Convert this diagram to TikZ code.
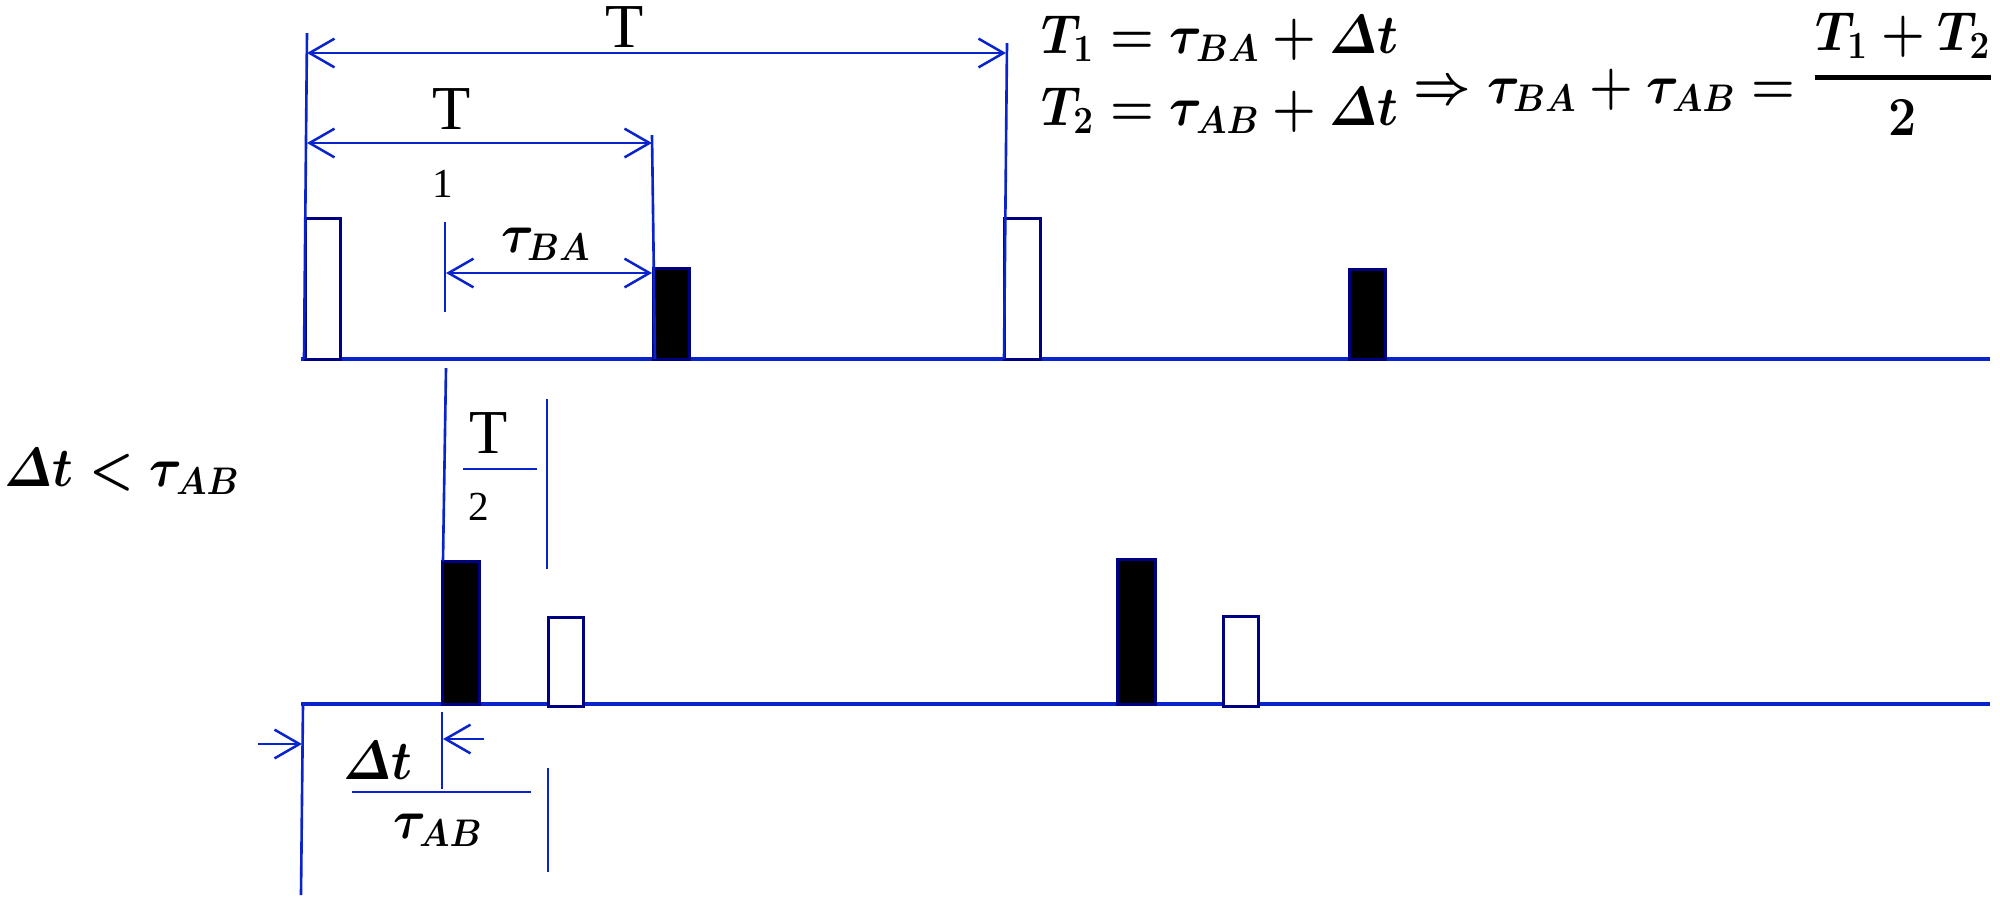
\RequirePackage{fix-cm}
\documentclass[tikz,border=0pt]{standalone}
\usepackage{amsmath}
\usepackage{graphicx}
\usepackage{fontspec}
\newfontfamily\timesfont{Liberation Serif}
\usetikzlibrary{arrows.meta}
\definecolor{linec}{RGB}{10,36,205}
\definecolor{boxc}{RGB}{0,0,130}
\newcommand\eqsq[1]{\scalebox{0.91}[1]{#1}}
\tikzset{
  baseln/.style={draw=linec, line width=1.3pt},
  dimln/.style={draw=linec, line width=1.05pt},
  barb/.tip={Straight Barb[length=10pt,width=11.5pt,line width=1pt]},
  dimarr/.style={dimln, barb-barb},
  onearr/.style={dimln, -barb},
  openbox/.style={draw=boxc, line width=1.2pt, fill=white},
  blackbox/.style={draw=boxc, line width=1.2pt, fill=black},
  timesbig/.style={inner sep=0pt, font=\timesfont\fontsize{25}{30}\selectfont},
  timessmall/.style={inner sep=0pt, font=\timesfont\fontsize{16.5}{20}\selectfont},
  mathtxt/.style={inner sep=0pt, font=\fontsize{22}{26}\selectfont\boldmath},
}
\begin{document}
\begin{tikzpicture}[x=0.4pt,y=-0.4pt]
\useasboundingbox (0,0) rectangle (2000,909);
% ---------- coordinates
\coordinate (tb0) at (301,359); \coordinate (tb1) at (1990,359);
\coordinate (bb0) at (301,704); \coordinate (bb1) at (1990,704);
% vertical guide lines
\coordinate (vA1) at (307,33);   \coordinate (vA2) at (304,359);
\coordinate (vB1) at (1007,43);  \coordinate (vB2) at (1004,359);
\coordinate (vC1) at (652,135);  \coordinate (vC2) at (655,359);
\coordinate (vD1) at (445,222);  \coordinate (vD2) at (445,312);
\coordinate (vE1) at (446,368);  \coordinate (vE2) at (443,561);
\coordinate (vF1) at (547,399);  \coordinate (vF2) at (547,569);
\coordinate (vG1) at (303,704);  \coordinate (vG2) at (301,895);
\coordinate (vH1) at (442,712);  \coordinate (vH2) at (442,789);
\coordinate (vI1) at (548,768);  \coordinate (vI2) at (548,872);
% arrows
\coordinate (aT1) at (307,53);   \coordinate (aT2) at (1006,53);
\coordinate (aS1) at (307,143);  \coordinate (aS2) at (652,143);
\coordinate (aU1) at (446,273);  \coordinate (aU2) at (652,273);
\coordinate (aL1) at (258,744);  \coordinate (aL2) at (302,744);
\coordinate (aR1) at (484,739);  \coordinate (aR2) at (443,739);
% short horizontal lines
\coordinate (hA1) at (463,469);  \coordinate (hA2) at (537,469);
\coordinate (hB1) at (352,792);  \coordinate (hB2) at (531,792);
% ---------- axes
\draw[baseln] (tb0) -- (tb1);
\draw[baseln] (bb0) -- (bb1);
% ---------- pulses
\draw[openbox]  (305,218) rectangle (340,359);
\draw[openbox]  (1004,218) rectangle (1040,359);
\draw[blackbox] (653,268) rectangle (689,359);
\draw[blackbox] (1349,269) rectangle (1385,359);
\draw[blackbox] (442,561) rectangle (479,704);
\draw[blackbox] (1117,559) rectangle (1155,704);
\draw[openbox]  (548,617) rectangle (583,706);
\draw[openbox]  (1223,616) rectangle (1258,706);
% ---------- guide lines
\foreach \a in {A,B,C,D,E,F,G,H,I}{\draw[dimln] (v\a1) -- (v\a2);}
\draw[dimln] (hA1) -- (hA2);
\draw[dimln] (hB1) -- (hB2);
% ---------- dimension arrows
\draw[dimarr] (aT1) -- (aT2);
\draw[dimarr] (aS1) -- (aS2);
\draw[dimarr] (aU1) -- (aU2);
\draw[onearr] (aL1) -- (aL2);
\draw[onearr] (aR1) -- (aR2);
% ---------- labels
\node[timesbig, anchor=base] (lT) at (625,47) {T};
\node[timesbig, anchor=base] (lT1a) at (452,129) {T};
\node[timessmall, anchor=base] (lT1b) at (443,197) {1};
\node[timesbig, anchor=base] (lT2a) at (489,453) {T};
\node[timessmall, anchor=base] (lT2b) at (479,520) {2};
\node[mathtxt, anchor=base] (ltBA) at (546,252) {\eqsq{$\tau_{BA}$}};
\node[mathtxt, anchor=base west] (lcond) at (4,486) {\eqsq{$\varDelta t<\tau_{AB}$}};
\node[mathtxt, anchor=base] (ldt) at (378,779) {\eqsq{$\varDelta t$}};
\node[mathtxt, anchor=base] (ltAB) at (438,838) {\eqsq{$\tau_{AB}$}};
% ---------- equations
\node[mathtxt, anchor=base west] (eq1) at (1041,53) {\eqsq{$T_1=\tau_{BA}+\varDelta t$}};
\node[mathtxt, anchor=base west] (eq2) at (1041,125) {\eqsq{$T_2=\tau_{AB}+\varDelta t$}};
\node[mathtxt, anchor=base west] (eq3) at (1413,103) {\eqsq{$\Rightarrow\tau_{BA}+\tau_{AB}=$}};
\node[mathtxt, anchor=base] (num) at (1903,50) {\eqsq{$T_1+T_2$}};
\node[mathtxt, anchor=base] (den) at (1903,135) {\eqsq{$2$}};
\draw[line width=2pt] (num.west |- 0,77) -- (num.east |- 0,77);
\end{tikzpicture}
\end{document}
